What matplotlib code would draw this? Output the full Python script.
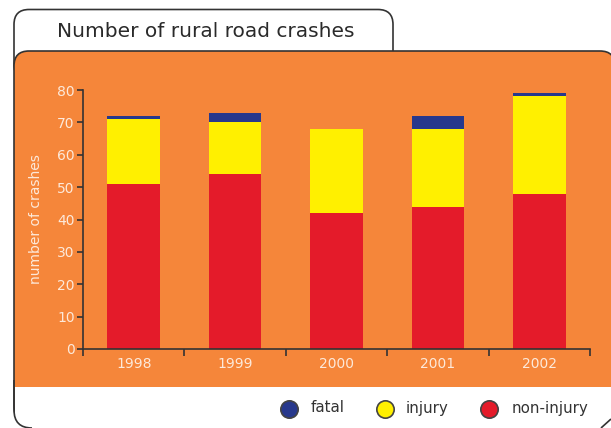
import matplotlib
matplotlib.use("Agg")
import matplotlib.pyplot as plt
from matplotlib.patches import FancyBboxPatch, Rectangle, PathPatch
from matplotlib.path import Path
import numpy as np

years = ["1998", "1999", "2000", "2001", "2002"]
non_injury = [51, 54, 42, 44, 48]
injury = [20, 16, 26, 24, 30]
fatal = [1, 3, 0, 4, 1]
series_names = ["fatal", "injury", "non-injury"]
yticks = [0, 10, 20, 30, 40, 50, 60, 70, 80]

ORANGE = "#F5863A"
RED = "#E41B2A"
YELLOW = "#FFF000"
NAVY = "#27388C"
EDGE = "#333333"
LABEL = "#FDE9DA"

W, H = 611, 428
fig = plt.figure(figsize=(W / 100, H / 100), dpi=100)
fig.patch.set_facecolor("white")

bg = fig.add_axes([0, 0, 1, 1], zorder=0)
bg.set_xlim(0, W)
bg.set_ylim(H, 0)
bg.axis("off")

# title tab
bg.add_patch(FancyBboxPatch((14, 9.5), 379, 70, boxstyle="round,pad=0,rounding_size=15",
                            fc="white", ec=EDGE, lw=1.2))
# orange panel
bg.add_patch(FancyBboxPatch((14, 51), 601, 370, boxstyle="round,pad=0,rounding_size=15",
                            fc=ORANGE, ec=EDGE, lw=1.2))
# cover bottom of orange panel
bg.add_patch(Rectangle((15, 387), 600, 44, fc="white", ec="none"))
# lower part of the outer frame
left_frame = Path([(14, 380), (14, 410), (14, 428), (32, 428)],
                  [Path.MOVETO, Path.LINETO, Path.CURVE3, Path.CURVE3])
bg.add_patch(PathPatch(left_frame, fill=False, ec=EDGE, lw=1.2))
right_frame = Path([(601, 428), (611, 419)], [Path.MOVETO, Path.LINETO])
bg.add_patch(PathPatch(right_frame, fill=False, ec=EDGE, lw=1.2))

bg.text(57, 31, "Number of rural road crashes", fontsize=14.5, color="#2a2a2a",
        ha="left", va="center")

# legend
leg_colors = [NAVY, YELLOW, RED]
leg_pos = [(289, 311), (385, 406), (489, 512)]
for name, col, (mx, tx) in zip(series_names, leg_colors, leg_pos):
    bg.plot([mx], [409], marker="o", ms=12.5, mfc=col, mec="#444444", mew=1.2, ls="none")
    bg.text(tx, 408, name, fontsize=10.8, color="#333333", ha="left", va="center")

# main chart
ax = fig.add_axes([83 / W, 1 - 349 / H, (590 - 83) / W, (349 - 90) / H], zorder=1)
ax.set_facecolor("none")
x = np.arange(len(years))
bw = 0.52
ni = np.array(non_injury)
inj = np.array(injury)
fa = np.array(fatal)
ax.bar(x, ni, bw, color=RED, edgecolor="none")
ax.bar(x, inj, bw, bottom=ni, color=YELLOW, edgecolor="none")
ax.bar(x, fa, bw, bottom=ni + inj, color=NAVY, edgecolor="none")

ax.set_xlim(-0.5, len(years) - 0.5)
ax.set_ylim(0, 80)
ax.set_yticks(yticks)
ax.set_yticklabels([str(v) for v in yticks])
ax.set_xticks(x)
ax.set_xticklabels(years)
ax.set_xticks(np.arange(-0.5, len(years), 1.0), minor=True)
ax.tick_params(axis="x", which="major", length=0, pad=6, labelsize=10, labelcolor=LABEL)
ax.tick_params(axis="x", which="minor", length=5, width=1.2, color=EDGE, direction="out")
ax.tick_params(axis="y", length=4, width=1.2, color=EDGE, pad=2, labelsize=10, labelcolor=LABEL)

for s in ["top", "right"]:
    ax.spines[s].set_visible(False)
for s in ["left", "bottom"]:
    ax.spines[s].set_color(EDGE)
    ax.spines[s].set_linewidth(1.2)

ax.set_ylabel("number of crashes", color=LABEL, fontsize=10, labelpad=10)

fig.savefig("out.png", dpi=100)
